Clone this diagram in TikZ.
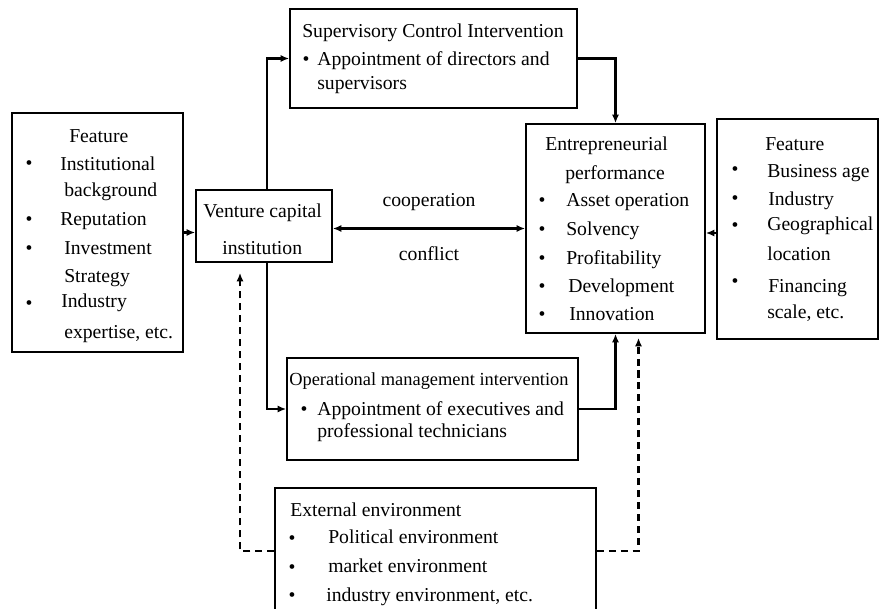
\documentclass[tikz,border=0pt]{standalone}
\usepackage{fontspec}
\setmainfont{Liberation Serif}
\usetikzlibrary{arrows.meta}
\usetikzlibrary{fit, calc}
\tikzset{
blk/.style={draw, line width=1.2pt, inner sep=0pt},
lbl/.style={anchor=base west, inner sep=0pt},
bul/.style={anchor=base, inner sep=0pt},
arr/.style={line width=1.5pt, -{Latex[length=6pt,width=5pt]}},
arrb/.style={line width=1.5pt, {Latex[length=6pt,width=5pt]}-{Latex[length=6pt,width=5pt]}},
darr/.style={arr, dash pattern=on 5pt off 3.5pt}
}

\begin{document}
\begin{tikzpicture}[x=0.025cm, y=-0.025cm, font=\fontsize{14}{16}\selectfont]
\useasboundingbox (0,0) rectangle (880,609);

%boxes
\node[blk, fit={(12,113) (183,352)}] (featL) {};
\node[blk, fit={(196,190) (332,262)}] (vc) {};
\node[blk, fit={(290,9) (577,108)}] (sup) {};
\node[blk, fit={(526,124) (705,333)}] (ent) {};
\node[blk, fit={(717,119) (878,339)}] (featR) {};
\node[blk, fit={(287,358) (578,460)}] (ops) {};
\node[blk, fit={(275,488) (596,614)}] (ext) {};

%left feature
\node[lbl] (fL0) at (69,143) {Feature};
\node[bul] (bL1) at (29,170) {\textbullet};
\node[lbl] (fL1) at (60,171) {Institutional};
\node[lbl] (fL2) at (64,197) {background};
\node[bul] (bL3) at (29,226) {\textbullet};
\node[lbl] (fL3) at (60,226) {Reputation};
\node[bul] (bL4) at (29,255) {\textbullet};
\node[lbl] (fL4) at (64,255) {Investment};
\node[lbl] (fL5) at (64,283) {Strategy};
\node[bul] (bL6) at (29,310) {\textbullet};
\node[lbl] (fL6) at (61,308) {Industry};
\node[lbl] (fL7) at (64,339) {expertise, etc.};

%venture capital
\node[lbl] (vc1) at (203,218) {Venture capital};
\node[lbl] (vc2) at (222,255) {institution};

%supervisory
\node[lbl] (sup0) at (302,38) {Supervisory Control Intervention};
\node[bul] (bS1) at (306,66) {\textbullet};
\node[lbl] (sup1) at (317,66) {Appointment of directors and};
\node[lbl] (sup2) at (317,90) {supervisors};

%entrepreneurial performance
\node[lbl] (ent0) at (545,151) {Entrepreneurial};
\node[lbl] (ent1) at (565,180) {performance};
\node[bul] (bE2) at (542,207) {\textbullet};
\node[lbl] (ent2) at (566,207) {Asset operation};
\node[bul] (bE3) at (542,236) {\textbullet};
\node[lbl] (ent3) at (566,236) {Solvency};
\node[bul] (bE4) at (542,265) {\textbullet};
\node[lbl] (ent4) at (566,265) {Profitability};
\node[bul] (bE5) at (542,293) {\textbullet};
\node[lbl] (ent5) at (568,293) {Development};
\node[bul] (bE6) at (542,321) {\textbullet};
\node[lbl] (ent6) at (569,321) {Innovation};

%right feature
\node[lbl] (fR0) at (765,151) {Feature};
\node[bul] (bR1) at (735,176) {\textbullet};
\node[lbl] (fR1) at (767,178) {Business age};
\node[bul] (bR2) at (735,205) {\textbullet};
\node[lbl] (fR2) at (768,206) {Industry};
\node[bul] (bR3) at (735,232) {\textbullet};
\node[lbl] (fR3) at (767,231) {Geographical};
\node[lbl] (fR4) at (767,261) {location};
\node[bul] (bR5) at (735,288) {\textbullet};
\node[lbl] (fR5) at (768,293) {Financing};
\node[lbl] (fR6) at (767,319) {scale, etc.};

%operational
\node[lbl, font=\fontsize{13.1}{15}\selectfont] (ops0) at (289,386) {Operational management intervention};
\node[bul] (bO1) at (304,415) {\textbullet};
\node[lbl] (ops1) at (317,415) {Appointment of executives and};
\node[lbl] (ops2) at (317,437) {professional technicians};

%external
\node[lbl] (ext0) at (290,516) {External environment};
\node[bul] (bX1) at (292,544) {\textbullet};
\node[lbl] (ext1) at (328,543) {Political environment};
\node[bul] (bX2) at (292,573) {\textbullet};
\node[lbl] (ext2) at (328,572) {market environment};
\node[bul] (bX3) at (292,601) {\textbullet};
\node[lbl] (ext3) at (326,601) {industry environment, etc.};

%connectors
\draw[arr] (featL.east) -- (featL.east -| vc.west);
\draw[arr] ([shift={(0,4)}]featR.west) -- ([shift={(0,4)}]featR.west -| ent.east);
\draw[arr] ([shift={(3,0)}]vc.north) |- (sup.west);
\draw[arr] ([shift={(3,0)}]vc.south) |- (ops.west);
\draw[arr] (sup.east) -| (ent.north);
\draw[arr] (ops.east) -| (ent.south);
\draw[arrb] (ent.west -| vc.east) -- (ent.west)
  node[midway, above=8.5pt] (coop) {cooperation}
  node[midway, below=8.5pt] (conf) {conflict};

%environment
\coordinate (vcin) at ([shift={(-24,10)}]vc.south);
\coordinate (entin) at ([shift={(23,4)}]ent.south);
\draw[darr] (ext.west) -| (vcin);
\draw[darr] (ext.east) -| (entin);
\end{tikzpicture}
\end{document}
